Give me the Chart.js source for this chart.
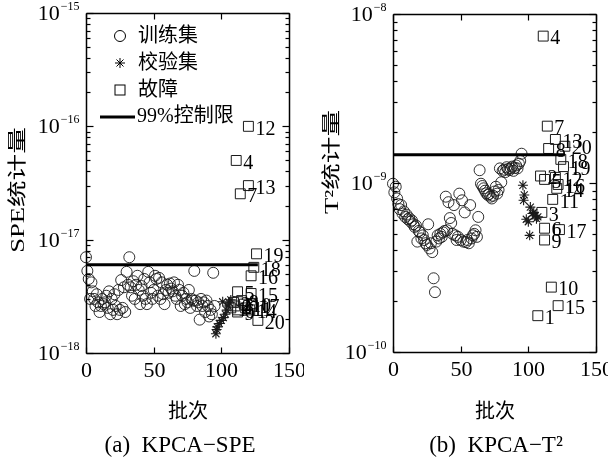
<!DOCTYPE html>
<html>
<head>
<meta charset="utf-8">
<script src="https://cdn.jsdelivr.net/npm/chart.js@4/dist/chart.umd.min.js"></script>
<style>
body{margin:0;background:#fff;width:608px;height:463px;position:relative;overflow:hidden}
.box{position:absolute;top:0;width:304px;height:463px}
</style>
</head>
<body>
<div class="box" style="left:0"><canvas id="cSPE" width="304" height="463"></canvas></div>
<div class="box" style="left:304px"><canvas id="cT2" width="304" height="463"></canvas></div>
<script>
/* ===== 数据 ===== */
const xTicks=[0,50,100,150];
const trainBatch=[0,1,2,3,4,5,6,7,8,9,10,11,12,13,14,15,16,17,18,19,20,21,22,23,24,25,26,27,28,29,
  30,31,32,33,34,35,36,37,38,39,40,41,42,43,44,45,46,47,48,49,50,51,52,53,54,55,56,57,58,59,
  60,61,62,63,64,65,66,67,68,69,70,71,72,73,74,75,76,77,78,79,80,81,82,83,84,85,86,87,88,89,
  90,91,92,93,94,95];
// SPE (×1e-18)
const trainSPE=[7.0,5.3,4.5,3.0,4.2,3.5,3.0,2.6,3.3,2.8,
  2.3,2.6,3.0,2.7,2.8,3.2,2.5,3.5,2.2,3.0,
  2.4,3.3,2.6,2.2,3.6,2.4,4.4,2.5,3.8,2.3,
  5.2,4.0,7.0,3.8,3.2,4.3,3.0,4.0,4.8,3.6,
  2.7,3.9,3.2,4.5,3.0,2.7,5.2,4.2,3.4,3.0,
  3.6,4.8,4.5,3.2,4.6,3.0,4.2,3.3,2.7,3.6,
  4.0,3.4,4.1,3.7,3.5,4.2,3.2,3.0,4.0,3.6,
  2.6,3.2,3.4,2.7,3.0,2.8,3.6,2.5,3.0,2.9,
  5.3,2.9,2.6,2.8,1.97,3.0,2.6,2.8,2.3,2.9,
  2.6,2.1,2.4,2.2,5.1,2.6];
// T² (×1e-10)
const trainT2=[9.9,8.8,9.5,8.1,7.5,7.0,7.4,6.6,6.8,6.3,
  6.5,6.1,6.2,5.9,6.0,5.7,5.5,5.6,4.5,5.2,
  5.1,4.7,4.9,4.6,4.4,4.3,5.7,4.1,4.4,3.9,
  2.73,2.26,4.5,4.9,4.7,5.0,4.8,5.1,5.2,8.3,
  5.25,7.7,6.2,5.8,5.0,7.4,4.9,4.6,4.8,8.65,
  4.6,7.9,4.5,6.7,4.47,4.6,4.4,7.4,4.7,4.9,
  5.0,5.25,4.8,6.3,11.9,9.9,9.6,9.3,9.0,8.7,
  8.5,8.6,8.3,8.1,8.4,8.9,9.5,8.65,9.1,12.2,
  10.1,11.8,12.0,11.6,12.4,12.1,11.9,12.2,12.5,11.8,
  12.3,12.7,12.2,13.0,13.5,14.9];

const valBatch=[96,96.5,97,98.5,100,101,101.5,103,104,105,106,107];
const valSPE=[1.48,1.61,1.70,1.82,1.94,2.83,2.05,2.20,2.39,2.60,2.77,2.94];
const valT2=[9.7,7.9,8.5,6.1,5.9,4.9,7.2,6.6,6.7,6.4,6.15,6.3];

const faultNo=[1,2,3,4,5,6,7,8,9,10,11,12,13,14,15,16,17,18,19,20];
const faultBatch=[107,109,110,111,112,112,114,115,112,117,118,120,120,121,122,122,123,124,126,127];
const faultSPE=[2.5,2.8,2.6,50,3.47,2.4,25.4,2.9,2.3,2.7,2.5,100,30,2.4,3.35,4.8,2.65,5.7,7.5,1.94];
const faultT2=[1.64,11.0,6.7,74,10.5,5.4,21.7,16.0,4.6,2.42,8.0,10.8,18.1,9.3,1.88,9.8,5.3,13.8,12.5,16.5];

const SPE_UNIT=1e-18,T2_UNIT=1e-10;
const SPE_LIMIT=6.0e-18,T2_LIMIT=1.47e-9,LIMIT_END=127;
const minorSteps=[2,3,4,5,6,7,8,9];

const SERIF='"Liberation Serif","Noto Sans CJK SC"';
const CJK='"Noto Sans CJK SC"';

const pts=(xs,ys,u)=>xs.map((x,i)=>({x,y:ys[i]*u}));

/* ===== 坐标框、刻度、文字 ===== */
const deco={
  id:'deco',
  afterDraw(chart,args,o){
    const ctx=chart.ctx,a=chart.chartArea,x=chart.scales.x,y=chart.scales.y;
    const line=(x1,y1,x2,y2)=>{ctx.beginPath();ctx.moveTo(x1,y1);ctx.lineTo(x2,y2);ctx.stroke();};
    ctx.save();
    ctx.globalAlpha=1;ctx.setLineDash([]);
    ctx.strokeStyle='#000';ctx.fillStyle='#000';
    const L=Math.round(a.left)+0.5,R=Math.round(a.right)+0.5,T=Math.round(a.top)+0.5,B=Math.round(a.bottom)+0.5;
    ctx.lineWidth=1.5;
    line(L,T,R,T);line(R,T,R,B);line(R,B,L,B);line(L,B,L,T);
    ctx.lineWidth=1.2;

    // x 轴
    ctx.font='22px '+SERIF;ctx.textAlign='center';ctx.textBaseline='middle';
    xTicks.forEach(v=>{
      const px=Math.round(x.getPixelForValue(v))+0.5;
      line(px,B,px,B-6);line(px,T,px,T+6);
      ctx.fillText(String(v),px,B+18);
    });

    // y 轴（对数）
    o.decades.forEach((d,i)=>{
      const py=Math.round(y.getPixelForValue(Math.pow(10,d)))+0.5;
      line(L,py,L+7,py);line(R,py,R-7,py);
      if(i<o.decades.length-1){
        minorSteps.forEach(m=>{
          const my=Math.round(y.getPixelForValue(m*Math.pow(10,d)))+0.5;
          line(L,my,L+4,my);line(R,my,R-4,my);
        });
      }
      const e='\u2212'+Math.abs(d);
      ctx.font='12px '+SERIF;ctx.textAlign='right';ctx.textBaseline='alphabetic';
      const ew=ctx.measureText(e).width;
      ctx.fillText(e,L-7,py-4);
      ctx.font='22px '+SERIF;ctx.textBaseline='middle';
      ctx.fillText('10',L-8-ew,py+1);
    });

    // 轴标题
    ctx.textAlign='center';ctx.textBaseline='middle';
    ctx.font='20px '+CJK;
    ctx.fillText('批次',(L+R)/2,410);
    ctx.save();
    ctx.translate(o.yTitleX,o.yTitleY);ctx.rotate(-Math.PI/2);ctx.scale(1.4,1);
    ctx.font='19px '+SERIF;
    ctx.fillText(o.yTitle,0,0);
    ctx.restore();

    // 图注
    ctx.font='23px '+SERIF;
    ctx.fillText(o.caption,o.capX,446);

    // 故障编号
    const meta=chart.getDatasetMeta(3);
    ctx.font='20px '+SERIF;ctx.textAlign='left';ctx.textBaseline='middle';
    meta.data.forEach((p,i)=>ctx.fillText(String(faultNo[i]),p.x+7,p.y+3));

    // 图例
    if(o.legend){
      ctx.lineWidth=1;
      const lx=120;
      ctx.beginPath();ctx.arc(lx,36,5.5,0,Math.PI*2);ctx.stroke();
      line(lx,58,lx,68);line(lx-5,63,lx+5,63);line(lx-3.5,59.5,lx+3.5,66.5);line(lx-3.5,66.5,lx+3.5,59.5);
      ctx.strokeRect(lx-5,85,10,10);
      ctx.lineWidth=3;line(100,117,135,117);
      ctx.font='20px '+SERIF;ctx.textAlign='left';
      ctx.fillText('训练集',138,37);
      ctx.fillText('校验集',138,64);
      ctx.fillText('故障',138,91);
      ctx.fillText('99%控制限',137,117);
    }
    ctx.restore();
  }
};

function makeChart(id,cfg){
  return new Chart(document.getElementById(id),{
    type:'scatter',
    data:{datasets:[
      {type:'line',data:[{x:0,y:cfg.limit},{x:LIMIT_END,y:cfg.limit}],borderColor:'#000',borderWidth:3,pointRadius:0,clip:false},
      {data:pts(trainBatch,cfg.train,cfg.unit),pointStyle:'circle',pointRadius:5.5,borderColor:'#1a1a1a',backgroundColor:'rgba(0,0,0,0)',borderWidth:0.9,clip:false},
      {data:pts(valBatch,cfg.val,cfg.unit),pointStyle:'star',pointRadius:5,borderColor:'#1a1a1a',backgroundColor:'rgba(0,0,0,0)',borderWidth:1.1,clip:false},
      {data:pts(faultBatch,cfg.fault,cfg.unit),pointStyle:'rect',pointRadius:7,borderColor:'#1a1a1a',backgroundColor:'rgba(0,0,0,0)',borderWidth:1,clip:false}
    ]},
    options:{
      responsive:false,animation:false,
      layout:{padding:cfg.pad},
      plugins:{legend:{display:false},tooltip:{enabled:false},deco:cfg.deco},
      scales:{
        x:{type:'linear',min:0,max:150,display:false},
        y:{type:'logarithmic',min:cfg.min,max:cfg.max,display:false}
      }
    },
    plugins:[deco]
  });
}

makeChart('cSPE',{
  train:trainSPE,val:valSPE,fault:faultSPE,unit:SPE_UNIT,limit:SPE_LIMIT,
  min:1e-18,max:1e-15,
  pad:{left:86,right:15,top:13,bottom:110},
  deco:{decades:[-18,-17,-16,-15],yTitle:'SPE统计量',yTitleX:19,yTitleY:190,
        caption:'(a)  KPCA\u2212SPE',capX:180,legend:true}
});
makeChart('cT2',{
  train:trainT2,val:valT2,fault:faultT2,unit:T2_UNIT,limit:T2_LIMIT,
  min:1e-10,max:1e-8,
  pad:{left:89,right:12,top:14,bottom:111},
  deco:{decades:[-10,-9,-8],yTitle:'T²统计量',yTitleX:29,yTitleY:162,
        caption:'(b)  KPCA\u2212T²',capX:192,legend:false}
});
</script>
</body>
</html>
